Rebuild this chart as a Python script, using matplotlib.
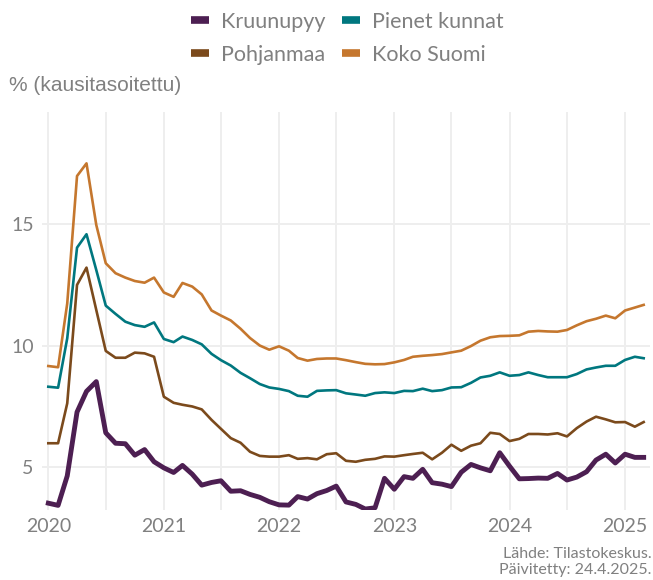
import numpy as np
import pandas as pd
import matplotlib
matplotlib.use("Agg")
import matplotlib.pyplot as plt
import matplotlib.dates as mdates
from matplotlib.lines import Line2D

# kuukausittaiset arvot 2020-01 ... 2025-03
months = pd.date_range("2020-01-01", periods=63, freq="MS")

kruunupyy = [
    3.53, 3.44, 4.65, 7.27, 8.12, 8.52, 6.42, 5.99, 5.97, 5.50, 5.73, 5.23,
    4.98, 4.79, 5.08, 4.72, 4.27, 4.38, 4.45, 4.02, 4.04, 3.89, 3.77, 3.59,
    3.46, 3.45, 3.80, 3.70, 3.92, 4.05, 4.23, 3.58, 3.48, 3.29, 3.34, 4.55,
    4.10, 4.62, 4.55, 4.92, 4.37, 4.31, 4.21, 4.80, 5.12, 4.98, 4.86, 5.60,
    5.05, 4.53, 4.54, 4.56, 4.55, 4.75, 4.48, 4.60, 4.82, 5.30, 5.54, 5.18,
    5.54, 5.41, 5.41,
]
pohjanmaa = [
    5.99, 5.99, 7.63, 12.49, 13.20, 11.46, 9.78, 9.50, 9.50, 9.71, 9.68, 9.54,
    7.90, 7.65, 7.57, 7.50, 7.38, 6.95, 6.58, 6.20, 6.01, 5.64, 5.47, 5.44,
    5.44, 5.50, 5.35, 5.38, 5.33, 5.54, 5.58, 5.27, 5.23, 5.31, 5.35, 5.45,
    5.44, 5.50, 5.55, 5.60, 5.33, 5.60, 5.93, 5.68, 5.89, 5.99, 6.42, 6.37,
    6.08, 6.17, 6.37, 6.37, 6.35, 6.40, 6.27, 6.61, 6.88, 7.08, 6.97, 6.85,
    6.86, 6.67, 6.86,
]
pienet_kunnat = [
    8.31, 8.27, 10.30, 14.02, 14.57, 13.10, 11.64, 11.30, 10.98, 10.84, 10.77, 10.95,
    10.27, 10.14, 10.37, 10.23, 10.05, 9.66, 9.40, 9.18, 8.88, 8.66, 8.42, 8.28,
    8.22, 8.13, 7.94, 7.90, 8.14, 8.16, 8.17, 8.04, 7.99, 7.94, 8.05, 8.08,
    8.05, 8.14, 8.13, 8.23, 8.13, 8.17, 8.28, 8.29, 8.47, 8.69, 8.76, 8.90,
    8.76, 8.79, 8.90, 8.79, 8.70, 8.70, 8.70, 8.83, 9.02, 9.10, 9.17, 9.17,
    9.41, 9.54, 9.48,
]
koko_suomi = [
    9.16, 9.11, 11.73, 16.96, 17.48, 14.95, 13.38, 12.97, 12.79, 12.65, 12.58, 12.79,
    12.18, 12.00, 12.57, 12.42, 12.10, 11.44, 11.23, 11.03, 10.69, 10.31, 10.00, 9.83,
    9.97, 9.79, 9.49, 9.38, 9.45, 9.47, 9.47, 9.40, 9.32, 9.25, 9.23, 9.24,
    9.31, 9.41, 9.54, 9.58, 9.61, 9.65, 9.72, 9.79, 9.98, 10.20, 10.34, 10.39,
    10.40, 10.42, 10.57, 10.60, 10.58, 10.57, 10.64, 10.83, 11.00, 11.10, 11.23, 11.12,
    11.44, 11.56, 11.67,
]

year_ticks = pd.date_range("2020-01-01", "2025-01-01", freq="YS")
half_years = pd.date_range("2020-01-01", "2025-01-01", freq="6MS")
y_ticks = [5, 10, 15]

col_kruunupyy = "#4d1f52"
col_pienet = "#00777f"
col_pohjanmaa = "#7b4a1c"
col_koko = "#c5772e"
grey_txt = "#808080"
grid_col = "#eeeeee"
body_font = ["Lato", "DejaVu Sans"]

fig = plt.figure(figsize=(6.53, 5.8), dpi=100)
ax = fig.add_axes([0.0643, 0.1207, 0.9311, 0.6867])

for d in half_years:
    ax.axvline(d, color=grid_col, lw=1.4, zorder=0)
for v in y_ticks:
    ax.axhline(v, color=grid_col, lw=1.4, zorder=0)

ax.plot(months, koko_suomi, color=col_koko, lw=1.9, zorder=2)
ax.plot(months, pienet_kunnat, color=col_pienet, lw=1.9, zorder=3)
ax.plot(months, pohjanmaa, color=col_pohjanmaa, lw=1.9, zorder=4)
ax.plot(months, kruunupyy, color=col_kruunupyy, lw=3.5, zorder=5,
        solid_joinstyle="round")

ax.set_xlim(pd.Timestamp("2019-12-12"), pd.Timestamp("2025-03-21"))
ax.set_ylim(3.25, 19.6)
ax.set_xticks(year_ticks)
ax.set_xticklabels([str(d.year) for d in year_ticks])
ax.set_yticks(y_ticks)
ax.tick_params(length=0, labelsize=14, labelcolor=grey_txt, pad=6)
for lab in ax.get_xticklabels() + ax.get_yticklabels():
    lab.set_family(body_font)
for s in ax.spines.values():
    s.set_visible(False)

# legenda: rivi 1 Kruunupyy, Pienet kunnat; rivi 2 Pohjanmaa, Koko Suomi
names = ["Kruunupyy", "Pohjanmaa", "Pienet kunnat", "Koko Suomi"]
cols = [col_kruunupyy, col_pohjanmaa, col_pienet, col_koko]
handles = [Line2D([], [], color=c, lw=5.5, solid_capstyle="butt") for c in cols]
leg = fig.legend(handles, names, ncol=2, loc="upper center",
                 bbox_to_anchor=(0.532, 1.0), frameon=False,
                 handlelength=0.85, handletextpad=0.55, columnspacing=0.75,
                 labelspacing=0.6, borderaxespad=0.15,
                 prop={"family": body_font, "size": 15.5})
for t in leg.get_texts():
    t.set_color(grey_txt)

fig.text(0.014, 0.852, "% (kausitasoitettu)", family="Liberation Sans",
         fontsize=15, color=grey_txt, ha="left", va="center")

fig.text(0.998, 0.031, "Lähde: Tilastokeskus.\nPäivitetty: 24.4.2025.",
         family=body_font, fontsize=11.5, color=grey_txt,
         ha="right", va="center", linespacing=1.1)

fig.savefig("out.png", dpi=100)
